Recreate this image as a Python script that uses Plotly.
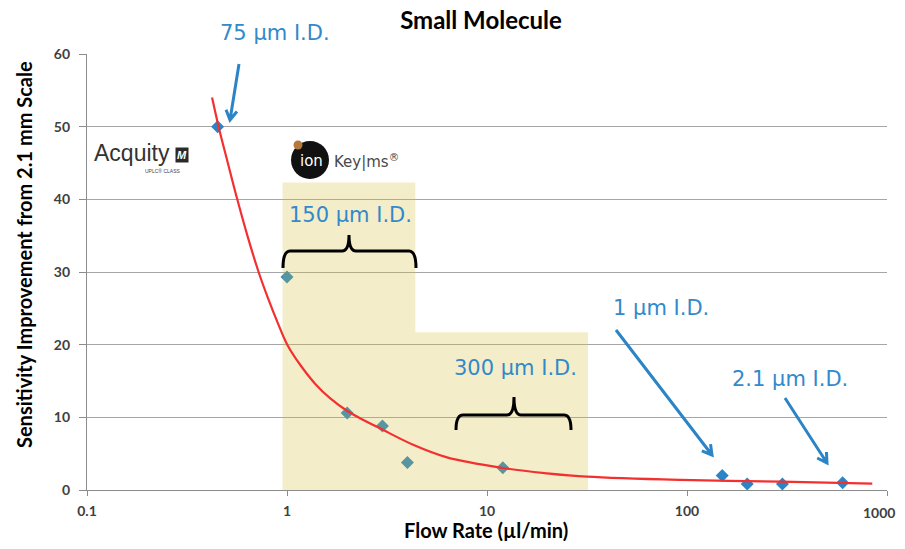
import math
import plotly.graph_objects as go

# ---------------- data ----------------
flow_rate = [0.45, 1.0, 2.0, 3.0, 4.0, 12.0, 150.0, 200.0, 300.0, 600.0]
sensitivity = [50.0, 29.3, 10.6, 8.8, 3.8, 3.05, 2.0, 0.83, 0.83, 1.0]

trend_x = [0.422, 0.455, 0.506, 0.564, 0.637, 0.721, 0.806, 0.899, 1.003, 1.166,
           1.385, 1.646, 1.995, 2.435, 2.927, 4.30, 6.31, 12.0, 19.95, 31.6,
           92.6, 296.0, 844.0]
trend_y = [54.0, 50.0, 45.0, 40.0, 34.8, 30.0, 26.3, 23.0, 20.0, 17.2,
           14.6, 12.6, 10.9, 9.56, 8.46, 6.19, 4.49, 3.03, 2.30, 1.83,
           1.38, 1.14, 0.87]

region_lo = [0.95, 4.38]
region_hi = [4.38, 32.0]
region_top = [42.3, 21.7]

x_ticks = [0.1, 1, 10, 100, 1000]
x_tick_labels = ["0.1", "1", "10", "100", "1000"]
y_ticks = [0, 10, 20, 30, 40, 50, 60]

# ---------------- layout helpers (screen pixel -> paper) ----------------
SW, SH = 905, 549                  # browser window
OFF = 8                            # default margin of the html body
W, H = SW - 2 * OFF, SH - 2 * OFF  # figure fits inside the window
L, R, T, B = 87, 887, 54, 490      # plot area in screen pixels


def px(x, y):
    return (x - L) / (R - L), (B - y) / (B - T)


BLUE_TXT = "#3289CB"
BLUE_ARR = "#2A84C6"

fig = go.Figure()

# data points (drawn first so the translucent regions tint them)
fig.add_trace(go.Scatter(
    x=flow_rate, y=sensitivity, mode="markers",
    marker=dict(symbol="diamond", size=10, color="#2A85C7"),
    showlegend=False, hoverinfo="x+y"))

# shaded regions
for lo, hi, top in zip(region_lo, region_hi, region_top):
    fig.add_trace(go.Scatter(
        x=[lo, lo, hi, hi, lo], y=[0, top, top, 0, 0],
        mode="none", fill="toself", fillcolor="rgba(211,192,56,0.27)",
        showlegend=False, hoverinfo="skip"))

# trend line
fig.add_trace(go.Scatter(
    x=trend_x, y=trend_y, mode="lines",
    line=dict(color="#F42F2F", width=2.2, shape="spline", smoothing=1.0),
    showlegend=False, hoverinfo="skip"))

shapes = []
annotations = []


def text(x, y, s, size=21, color=BLUE_TXT, family="DejaVu Sans", **kw):
    xp, yp = px(x, y)
    d = dict(x=xp, y=yp, xref="paper", yref="paper", text=s, showarrow=False,
             xanchor="center", yanchor="middle",
             font=dict(size=size, color=color, family=family))
    d.update(kw)
    annotations.append(d)


def arrow(x0, y0, x1, y1, wing=11):
    ang = math.atan2(y1 - y0, x1 - x0)
    pts = []
    for da in (math.radians(150), -math.radians(150)):
        pts.append((x1 + wing * math.cos(ang + da), y1 + wing * math.sin(ang + da)))
    a = px(x0, y0); b = px(x1, y1); w1 = px(*pts[0]); w2 = px(*pts[1])
    path = (f"M {a[0]},{a[1]} L {b[0]},{b[1]} M {w1[0]},{w1[1]} "
            f"L {b[0]},{b[1]} L {w2[0]},{w2[1]}")
    shapes.append(dict(type="path", path=path, xref="paper", yref="paper",
                       line=dict(color=BLUE_ARR, width=3)))


def brace(x0, x1, xc, yb, yh, yt, r=7):
    P = lambda x, y: "{:.5f},{:.5f}".format(*px(x, y))
    path = (f"M {P(x0, yb)} Q {P(x0, yh)} {P(x0 + r, yh)} L {P(xc - r, yh)} "
            f"Q {P(xc, yh)} {P(xc, yt)} Q {P(xc, yh)} {P(xc + r, yh)} "
            f"L {P(x1 - r, yh)} Q {P(x1, yh)} {P(x1, yb)}")
    shapes.append(dict(type="path", path=path, xref="paper", yref="paper",
                       line=dict(color="black", width=3)))


# labels + arrows
text(275, 33, "75 µm I.D.")
arrow(239, 64, 230, 120)
text(350, 215, "150 µm I.D.")
brace(283, 416, 349, 268, 251, 235)
text(515, 368, "300 µm I.D.")
brace(456, 571, 514, 430, 415, 397)
text(661, 308, "1 µm I.D.")
arrow(616, 330, 712, 455)
text(790, 379, "2.1 µm I.D.")
arrow(785, 398, 827, 463)

# Acquity logo (text rendition)
text(132, 153, "Acquity", size=23, color="#333333", family="Liberation Sans")
text(182, 155, "<b><i>M</i></b>", size=11, color="white", family="Liberation Sans",
     bgcolor="#2a2a2a", borderpad=1)
text(162, 171, "UPLC® CLASS", size=5, color="#444444", family="Liberation Sans")

# ionKey/MS logo
cx, cy, rr = 310, 160, 19
a = px(cx - rr, cy + rr); b = px(cx + rr, cy - rr)
shapes.append(dict(type="circle", xref="paper", yref="paper", x0=a[0], y0=a[1],
                   x1=b[0], y1=b[1], fillcolor="#111111", line=dict(width=0)))
a = px(298 - 4.5, 145 + 4.5); b = px(298 + 4.5, 145 - 4.5)
shapes.append(dict(type="circle", xref="paper", yref="paper", x0=a[0], y0=a[1],
                   x1=b[0], y1=b[1], fillcolor="#B5793E", line=dict(width=0)))
text(311, 161, "ion", size=15, color="white", family="DejaVu Sans")
text(366, 161, "Key|ms<sup>®</sup>", size=15, color="#4a4a4a", family="DejaVu Sans")

# axis titles (placed explicitly)
text(24, 255, "<b>Sensitivity Improvement from 2.1 mm Scale</b>", size=20,
     color="black", family="Lato", textangle=-90)
text(486, 530, "<b>Flow Rate (µl/min)</b>", size=20, color="black", family="Lato")

# the last x tick label sits at the right edge of the figure: draw it right-aligned
tick_font = dict(family="Lato", size=14, color="#404040", weight="bold")
shown_x_labels = x_tick_labels[:-1] + [""]
annotations.append(dict(x=1.0 + (SW - OFF - R) / (R - L), y=px(0, 512)[1],
                        xref="paper", yref="paper", text=x_tick_labels[-1],
                        showarrow=False, xanchor="right", yanchor="middle",
                        font=tick_font))

fig.update_layout(
    width=W, height=H,
    margin=dict(l=L - OFF, r=SW - OFF - R, t=T - OFF, b=SH - OFF - B),
    paper_bgcolor="white", plot_bgcolor="white",
    title=dict(text="<b>Small Molecule</b>", x=(481 - L) / (R - L), xref="paper",
               xanchor="center", y=1 - (21 - OFF) / H, yanchor="middle",
               font=dict(family="Lato", size=24, color="black")),
    xaxis=dict(type="log", range=[-1, 3], tickvals=x_ticks, ticktext=shown_x_labels,
               showgrid=False, zeroline=False, showline=True, linecolor="#8C8C8C",
               linewidth=1.3, ticks="outside", ticklen=5, tickcolor="#8C8C8C",
               ticklabelstandoff=3, tickfont=tick_font),
    yaxis=dict(range=[0, 60], tickvals=y_ticks, showgrid=True, gridcolor="#A6A6A6",
               gridwidth=1, zeroline=False, showline=True, linecolor="#8C8C8C",
               linewidth=1.3, ticks="outside", ticklen=7, tickcolor="#8C8C8C",
               ticklabelstandoff=6, tickfont=tick_font),
    shapes=shapes, annotations=annotations,
)

fig.write_html("out.html", config={"displayModeBar": False})
